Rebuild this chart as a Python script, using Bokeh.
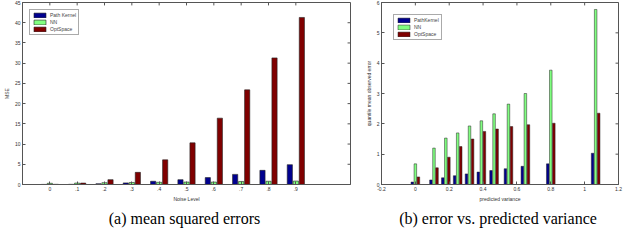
from bokeh.plotting import figure
from bokeh.layouts import row
from bokeh.models import (Range1d, FixedTicker, Title, Legend, LegendItem,
                          ColumnDataSource)
from bokeh.transform import dodge
from bokeh.embed import file_html
from bokeh.resources import INLINE

# ---------------- data ----------------
noise_levels = [0, 1, 2, 3, 4, 5, 6, 7, 8, 9]
noise_labels = ["0", ".1", ".2", ".3", ".4", ".5", ".6", ".7", ".8", ".9"]
pathkernel_mse = [0.02, 0.05, 0.2, 0.4, 0.8, 1.2, 1.7, 2.5, 3.5, 4.9]
nn_mse = [0.3, 0.35, 0.45, 0.5, 0.55, 0.6, 0.6, 0.75, 0.8, 0.85]
optspace_mse = [0.05, 0.35, 1.2, 3.0, 6.1, 10.3, 16.4, 23.4, 31.3, 41.3]
mse_yticks = [0, 5, 10, 15, 20, 25, 30, 35, 40, 45]

pred_var = [0.0, 0.11, 0.18, 0.25, 0.32, 0.39, 0.465, 0.55, 0.65, 0.80, 1.065]
pathkernel_err = [0.08, 0.15, 0.22, 0.29, 0.35, 0.41, 0.46, 0.52, 0.6, 0.68, 1.03]
nn_err = [0.68, 1.2, 1.53, 1.7, 1.93, 2.1, 2.33, 2.65, 3.0, 3.77, 5.77]
optspace_err = [0.25, 0.55, 0.9, 1.25, 1.5, 1.75, 1.83, 1.91, 1.97, 2.02, 2.35]
var_xticks = [-0.2, 0, 0.2, 0.4, 0.6, 0.8, 1, 1.2]
var_xlabels = ["-0.2", "0", "0.2", "0.4", "0.6", "0.8", "1", "1.2"]
err_yticks = [0, 1, 2, 3, 4, 5, 6]

BLUE = "#00008F"
GREEN = "#80FF80"
RED = "#800000"
EDGE = "#222222"
AXC = "#555555"
FONT = "Liberation Sans"
SERIF = "Liberation Serif"
FS = "5px"


def style_axis(ax):
    ax.axis_line_color = AXC
    ax.major_tick_line_color = AXC
    ax.major_tick_in = 3
    ax.major_tick_out = 0
    ax.minor_tick_line_color = None
    ax.major_label_text_font = FONT
    ax.major_label_text_font_size = FS
    ax.major_label_text_color = "#333333"
    ax.major_label_standoff = 2
    ax.axis_label_text_font = FONT
    ax.axis_label_text_font_size = FS
    ax.axis_label_text_font_style = "normal"
    ax.axis_label_text_color = "#333333"
    ax.axis_label_standoff = 2


def make_fig(width, xr, yr, min_left, min_right):
    p = figure(width=width, height=229, x_range=xr, y_range=yr,
               output_backend="svg", toolbar_location=None,
               min_border_left=min_left, min_border_right=min_right,
               min_border_top=2, min_border_bottom=0)
    p.xgrid.visible = False
    p.ygrid.visible = False
    p.outline_line_color = AXC
    p.background_fill_color = "white"
    p.border_fill_color = "white"
    return p


def add_box_ticks(p, xticks, yticks, fx, fy):
    # inward tick marks on the top and right edges (matlab box style)
    x0, x1 = p.x_range.start, p.x_range.end
    y0, y1 = p.y_range.start, p.y_range.end
    ly = fy * (y1 - y0)
    lx = fx * (x1 - x0)
    p.segment(x0=xticks, x1=xticks, y0=[y1] * len(xticks), y1=[y1 - ly] * len(xticks),
              line_color=AXC, line_width=1)
    p.segment(x0=[x1] * len(yticks), x1=[x1 - lx] * len(yticks), y0=yticks, y1=yticks,
              line_color=AXC, line_width=1)


def add_legend(p, renderers, labels, margin):
    items = [LegendItem(label=l, renderers=[r]) for l, r in zip(labels, renderers)]
    leg = Legend(items=items, location="top_left")
    leg.label_text_font = FONT
    leg.label_text_font_size = FS
    leg.label_height = 6
    leg.glyph_height = 6
    leg.glyph_width = 15
    leg.spacing = 1
    leg.padding = 2
    leg.margin = margin
    leg.label_standoff = 3
    leg.border_line_color = AXC
    leg.border_line_width = 1
    p.add_layout(leg)


def add_caption(p, text):
    t = Title(text=text, align="center", text_font=SERIF, text_font_size="16px",
              text_font_style="normal", text_color="black", standoff=6)
    p.add_layout(t, "below")


# ---------------- left panel ----------------
src1 = ColumnDataSource(dict(x=noise_levels, pk=pathkernel_mse, nn=nn_mse, os=optspace_mse))
p1 = make_fig(362, Range1d(-1, 11), Range1d(0, 45), 16, 12)
bw1 = 0.19
r1a = p1.vbar(x=dodge("x", -0.22, range=p1.x_range), top="pk", width=bw1, source=src1,
              fill_color=BLUE, line_color=EDGE, line_width=0.6)
r1b = p1.vbar(x=dodge("x", 0.0, range=p1.x_range), top="nn", width=bw1, source=src1,
              fill_color=GREEN, line_color=EDGE, line_width=0.6)
r1c = p1.vbar(x=dodge("x", 0.22, range=p1.x_range), top="os", width=bw1, source=src1,
              fill_color=RED, line_color=EDGE, line_width=0.6)
p1.xaxis.ticker = FixedTicker(ticks=noise_levels)
p1.xaxis.major_label_overrides = {k: v for k, v in zip(noise_levels, noise_labels)}
p1.yaxis.ticker = FixedTicker(ticks=mse_yticks)
p1.xaxis.axis_label = "Noise Level"
p1.yaxis.axis_label = "MSE"
style_axis(p1.xaxis[0])
style_axis(p1.yaxis[0])
add_box_ticks(p1, noise_levels, mse_yticks, 0.009, 0.016)
add_legend(p1, [r1a, r1b, r1c], ["Path Kernel", "NN", "OptSpace"], 7)
add_caption(p1, "(a)  mean squared errors")

# ---------------- right panel ----------------
src2 = ColumnDataSource(dict(x=pred_var, pk=pathkernel_err, nn=nn_err, os=optspace_err))
p2 = make_fig(262, Range1d(-0.2, 1.2), Range1d(0, 6), 16, 6)
bw2 = 0.015
r2a = p2.vbar(x=dodge("x", -0.018, range=p2.x_range), top="pk", width=bw2, source=src2,
              fill_color=BLUE, line_color=EDGE, line_width=0.5)
r2b = p2.vbar(x=dodge("x", 0.0, range=p2.x_range), top="nn", width=bw2, source=src2,
              fill_color=GREEN, line_color=EDGE, line_width=0.5)
r2c = p2.vbar(x=dodge("x", 0.018, range=p2.x_range), top="os", width=bw2, source=src2,
              fill_color=RED, line_color=EDGE, line_width=0.5)
p2.xaxis.ticker = FixedTicker(ticks=var_xticks)
p2.xaxis.major_label_overrides = {k: v for k, v in zip(var_xticks, var_xlabels)}
p2.yaxis.ticker = FixedTicker(ticks=err_yticks)
p2.xaxis.axis_label = "predicted variance"
p2.yaxis.axis_label = "quantile mean observed error"
style_axis(p2.xaxis[0])
style_axis(p2.yaxis[0])
add_box_ticks(p2, var_xticks, err_yticks, 0.0125, 0.016)
add_legend(p2, [r2a, r2b, r2c], ["PathKernel", "NN", "OptSpace"], 12)
add_caption(p2, "(b)  error vs. predicted variance")

layout = row(p1, p2, spacing=0)
open("out.html", "w").write(file_html(layout, INLINE))
